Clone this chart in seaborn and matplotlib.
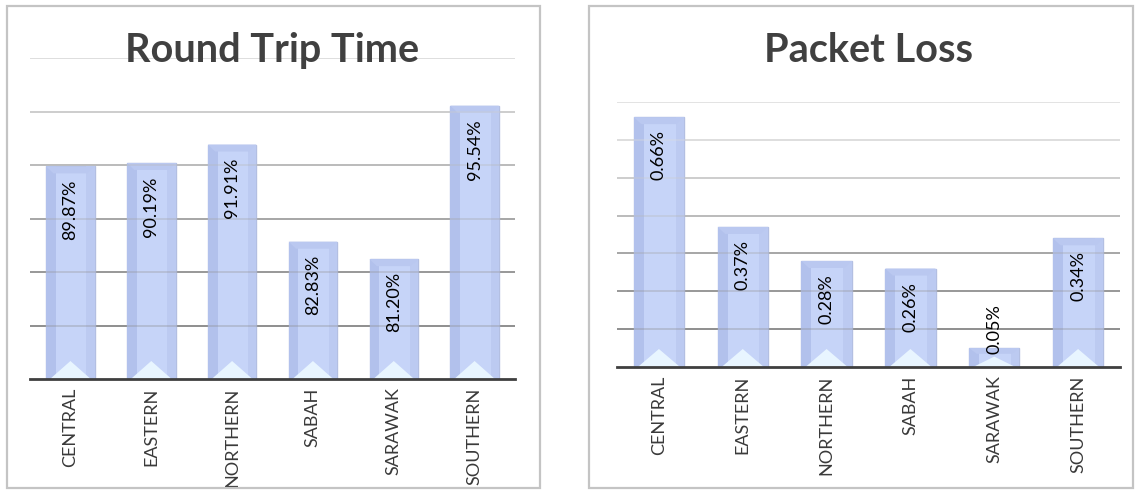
import matplotlib
matplotlib.use("Agg")
import matplotlib.pyplot as plt
import seaborn as sns
import pandas as pd
import numpy as np
from matplotlib.patches import Rectangle, Polygon

# ---- data ----
regions = ["CENTRAL", "EASTERN", "NORTHERN", "SABAH", "SARAWAK", "SOUTHERN"]
rtt_values = [89.87, 90.19, 91.91, 82.83, 81.20, 95.54]
loss_values = [0.66, 0.37, 0.28, 0.26, 0.05, 0.34]
rtt_ticks = [70, 75, 80, 85, 90, 95, 100]
loss_ticks = [0.0, 0.1, 0.2, 0.3, 0.4, 0.5, 0.6, 0.7]
titles = ["Round Trip Time", "Packet Loss"]

sns.set_theme(style="white")
plt.rcParams["font.family"] = ["Lato", "DejaVu Sans"]

W, H = 1136, 491
fig = plt.figure(figsize=(W / 100, H / 100), dpi=100)
fig.patch.set_facecolor("white")

def fx(px):
    return px / W

def fy(py):
    return 1 - py / H

# panel borders
for (x0, y0, x1, y1) in [(7, 6, 540, 488), (589, 6, 1133, 488)]:
    fig.patches.append(Rectangle((fx(x0), fy(y1)), fx(x1 - x0), (y1 - y0) / H,
                                 transform=fig.transFigure, fill=False,
                                 edgecolor="#c4c4c4", linewidth=1.6, zorder=0))

ax1 = fig.add_axes([fx(30), fy(379), fx(515 - 30), (379 - 58) / H])
ax2 = fig.add_axes([fx(617), fy(367), fx(1120 - 617), (367 - 102) / H])

grid_cols = ["#8a8a8a", "#8a8a8a", "#949494", "#a3a3a3", "#b8b8b8", "#cccccc", "#dcdcdc", "#e2e2e2"]

def style_bars(ax, ymin, ymax, height_px):
    upp = (ymax - ymin) / height_px  # data units per pixel
    for p in list(ax.patches):
        x, w = p.get_x(), p.get_width()
        top = p.get_height() + p.get_y()
        bot = ymin
        h = top - bot
        # left darker strip
        ax.add_patch(Rectangle((x, bot), w * 0.2, h, facecolor="#b2c1ec",
                               edgecolor="none", zorder=2.2))
        # right strip
        ax.add_patch(Rectangle((x + w * 0.83, bot), w * 0.17, h, facecolor="#bccaf1",
                               edgecolor="none", zorder=2.2))
        # top bevel
        bev = min(7 * upp, h * 0.3)
        ax.add_patch(Polygon([(x, top), (x + w, top), (x + w * 0.85, top - bev),
                              (x + w * 0.15, top - bev)], closed=True,
                             facecolor="#bac8f0", edgecolor="none", zorder=2.3))
        # bottom light triangle
        th = min(18 * upp, h * 0.55)
        ax.add_patch(Polygon([(x + w * 0.08, bot), (x + w * 0.92, bot),
                              (x + w * 0.5, bot + th)], closed=True,
                             facecolor="#e8f5ff", edgecolor="none", zorder=2.3))

def draw_panel(ax, values, ticks, title, height_px, title_x):
    df = pd.DataFrame({"region": regions, "value": values})
    sns.barplot(data=df, x="region", y="value", ax=ax, color="#c6d4f8",
                width=0.6, saturation=1, edgecolor="#b3bfe2", linewidth=1.0,
                zorder=2)
    ymin, ymax = ticks[0], ticks[-1]
    ax.set_ylim(ymin, ymax)
    ax.set_xlim(-0.5, len(regions) - 0.5)
    style_bars(ax, ymin, ymax, height_px)
    n = len(ticks)
    for i, t in enumerate(ticks[1:], start=1):
        c = grid_cols[min(i, len(grid_cols) - 1)] if n == 7 else grid_cols[i]
        ax.axhline(t, color=c, linewidth=1.3, zorder=1)
        ax.axhline(t, color=c, linewidth=1.3, zorder=2.5, alpha=0.35)
    ax.set_yticks([])
    ax.set_ylabel("")
    ax.set_xlabel("")
    for s in ["left", "right", "top"]:
        ax.spines[s].set_visible(False)
    ax.spines["bottom"].set_color("#3f3f3f")
    ax.spines["bottom"].set_linewidth(2.0)
    ax.spines["bottom"].set_zorder(4)
    ax.tick_params(axis="x", length=0, pad=6, labelsize=13, labelcolor="#3a3a3a",
                   rotation=90)
    ax.set_facecolor("none")
    upp = (ymax - ymin) / height_px
    for i, v in enumerate(values):
        bar_px = (v - ymin) / upp
        txt = f"{v:.2f}%"
        if bar_px > 75:
            ax.annotate(txt, xy=(i, v), xytext=(0, -9.5), textcoords="offset points",
                        rotation=90, ha="center", va="top", fontsize=13,
                        color="#000000", zorder=5)
        else:
            ax.annotate(txt, xy=(i, ymin), xytext=(0, 9), textcoords="offset points",
                        rotation=90, ha="center", va="bottom", fontsize=13,
                        color="#000000", zorder=5)
    fig.text(title_x, fy(62), title, ha="center", va="baseline", fontsize=28.5,
             fontweight="bold", color="#404040")

draw_panel(ax1, rtt_values, rtt_ticks, titles[0], 379 - 58, fx(272))
draw_panel(ax2, loss_values, loss_ticks, titles[1], 367 - 102, fx(868))

fig.savefig("out.png", dpi=100, facecolor="white")
